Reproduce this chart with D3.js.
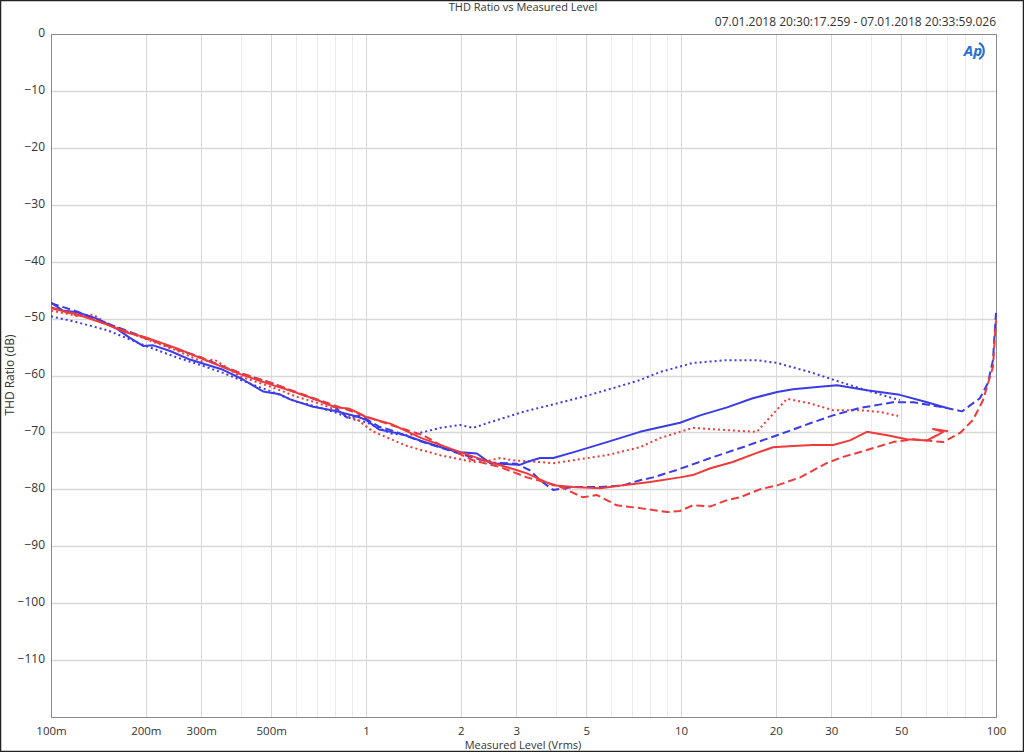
<!DOCTYPE html>
<html><head><meta charset="utf-8">
<script src="https://cdn.jsdelivr.net/npm/d3@7"></script>
<style>body{margin:0;background:#fff}svg{display:block}text{font-family:"Open Sans","Noto Sans",sans-serif;fill:#333}</style>
</head><body><svg id="c" width="1024" height="752"></svg>
<script>
const title = "THD Ratio vs Measured Level";
const timestamp = "07.01.2018 20:30:17.259 - 07.01.2018 20:33:59.026";
const xLabel = "Measured Level (Vrms)";
const yLabel = "THD Ratio (dB)";
const xTickValues = [0.1,0.2,0.3,0.5,1,2,3,5,10,20,30,50,100];
const xTickLabels = ["100m","200m","300m","500m","1","2","3","5","10","20","30","50","100"];
const yTickValues = [0,-10,-20,-30,-40,-50,-60,-70,-80,-90,-100,-110];

const blueSolid = [[0.1,-47.2],[0.109,-48.6],[0.121,-48.9],[0.14,-50],[0.162,-51.8],[0.178,-53.4],[0.196,-54.8],[0.211,-54.7],[0.239,-55.7],[0.276,-57.2],[0.32,-58.3],[0.352,-59],[0.407,-60.7],[0.471,-62.8],[0.533,-63.3],[0.574,-64.2],[0.679,-65.5],[0.809,-66.3],[0.936,-67.2],[1.0,-67.8],[1.1,-69.5],[1.3,-70.3],[1.5,-71.5],[1.8,-72.9],[2.0,-73.5],[2.25,-73.7],[2.48,-75.4],[3.08,-75.7],[3.24,-75.2],[3.57,-74.5],[3.93,-74.5],[4.54,-73.5],[5.82,-71.7],[7.41,-69.9],[8.57,-69.1],[9.93,-68.3],[11.5,-67.0],[14.0,-65.6],[16.9,-64.0],[20.2,-62.9],[22.7,-62.4],[27.0,-62.0],[31.3,-61.7],[38.9,-62.6],[49.5,-63.4],[60.4,-64.7],[69.8,-65.7]];
const blueDashed = [[0.1,-47.3],[0.12,-48.7],[0.15,-50.8],[0.2,-53.4],[0.25,-55.3],[0.3,-56.9],[0.4,-59.6],[0.5,-61.3],[0.6,-63],[0.7,-64.3],[0.8,-65.6],[0.87,-67.4],[0.95,-67.1],[1.0,-67.6],[1.1,-69],[1.2,-69.6],[1.5,-71.6],[2.0,-73.8],[2.5,-75.3],[3.0,-75.5],[3.3,-76.6],[3.57,-78.4],[3.93,-80.1],[4.54,-79.6],[5.54,-79.6],[6.55,-79.3],[7.41,-78.4],[8.15,-77.9],[9.7,-76.6],[12.4,-74.5],[15.7,-72.6],[20.2,-70.5],[25.7,-68.4],[30.4,-67.0],[37,-65.7],[47.1,-64.7],[54.6,-64.7],[69.8,-65.7],[78,-66.3],[88.9,-64],[94.3,-61.3],[97.8,-57.3],[100,-49]];
const blueDotted = [[0.1,-49.6],[0.12,-50.6],[0.15,-52],[0.2,-54.8],[0.25,-56.8],[0.3,-58.2],[0.35,-59.5],[0.4,-60.8],[0.5,-62.8],[0.6,-64.6],[0.7,-65.5],[0.8,-66.5],[0.9,-67.6],[1.0,-68.2],[1.2,-70.2],[1.35,-70.5],[1.48,-70.1],[1.72,-69.2],[1.99,-68.7],[2.19,-69.2],[2.48,-68.2],[3.15,-66.4],[4.04,-64.9],[5.14,-63.4],[6.55,-61.7],[7.41,-60.8],[8.57,-59.4],[10.9,-57.8],[14,-57.3],[17.4,-57.3],[20.2,-57.8],[25.7,-59.4],[32.7,-61.3],[38.9,-62.6],[47.1,-64.0],[49.5,-64.3]];
const redSolid = [[0.1,-48.2],[0.12,-49.2],[0.15,-51],[0.17,-52.3],[0.2,-53.3],[0.25,-55.2],[0.3,-57],[0.4,-59.8],[0.5,-61.6],[0.6,-63],[0.7,-64.3],[0.8,-65.6],[0.88,-65.8],[0.95,-66.6],[1.0,-67.3],[1.2,-68.5],[1.5,-71],[2.0,-73.5],[2.5,-75.3],[3.0,-76.6],[3.24,-77.2],[3.93,-79.3],[4.54,-79.6],[5.54,-79.8],[6.55,-79.3],[7.97,-78.7],[9.93,-77.9],[10.9,-77.5],[12.4,-76.3],[14.6,-75.2],[17.4,-73.6],[19.6,-72.6],[22.7,-72.4],[26.2,-72.2],[30.4,-72.2],[34.4,-71.4],[38.9,-69.9],[45.1,-70.5],[52.1,-71.2],[60.4,-71.4],[65,-70.5],[67.9,-69.9],[63.1,-69.4],[70.5,-69.8]];
const redDashed = [[0.1,-48],[0.12,-49.4],[0.13,-49.6],[0.15,-51],[0.2,-53.5],[0.25,-55.4],[0.3,-56.8],[0.32,-57.6],[0.4,-59.6],[0.5,-61.3],[0.6,-62.9],[0.7,-64.2],[0.8,-65.3],[0.9,-66.3],[1.0,-67.2],[1.2,-68.7],[1.52,-70.5],[1.72,-72.2],[2.19,-74.9],[2.67,-76.1],[3.24,-77.9],[4.04,-79.3],[4.88,-81.4],[5.41,-81.0],[6.25,-82.8],[7.41,-83.3],[9.04,-84.0],[9.93,-83.8],[10.9,-82.8],[12.4,-83.0],[14.0,-81.9],[15.4,-81.4],[17.8,-80.0],[20.2,-79.3],[23.9,-77.9],[29,-75.4],[32.7,-74.3],[38.9,-73.1],[47.1,-71.7],[54.6,-71.2],[67.9,-71.7],[76.9,-70.1],[84.5,-67.8],[91,-64.3],[97.8,-58.5],[100,-50.3]];
const redDotted = [[0.1,-48.6],[0.12,-49.5],[0.136,-49.3],[0.15,-50.8],[0.2,-53.6],[0.25,-55.6],[0.3,-57.5],[0.33,-57.2],[0.4,-60.2],[0.5,-62],[0.6,-63.7],[0.7,-64.8],[0.8,-66],[0.94,-67.8],[1.05,-69.8],[1.2,-71.2],[1.35,-72.4],[1.72,-74],[2.19,-75.2],[2.48,-74.9],[2.67,-74.5],[2.93,-74.9],[3.57,-75.2],[3.93,-75.4],[4.54,-74.9],[5.82,-74],[7.41,-72.6],[8.57,-71],[10.9,-69.2],[14,-69.6],[17.4,-69.9],[19.2,-67.3],[21.7,-64.1],[25.7,-64.9],[30.4,-66.1],[37,-66.1],[42.8,-66.4],[48.9,-67.1]];

const BLUE = "#3b3be8", RED = "#f03a3a";
const series = [
  {d: blueDotted, c: BLUE, dash: "2,3"},
  {d: redDotted, c: RED, dash: "2,3"},
  {d: blueDashed, c: BLUE, dash: "8,4"},
  {d: redDashed, c: RED, dash: "8,4"},
  {d: blueSolid, c: BLUE, dash: null},
  {d: redSolid, c: RED, dash: null}
];

const svg = d3.select("#c");
const L = 51, R = 996, T = 34, B = 717;
const x = d3.scaleLog().domain([0.1, 100]).range([L, R]);
const y = d3.scaleLinear().domain([-120, 0]).range([B, T]);

// outer frame
svg.append("rect").attr("x",0.5).attr("y",0.5).attr("width",1023).attr("height",751)
  .attr("fill","none").attr("stroke","#222").attr("stroke-width",1.5);

// grid
const minor = [];
for (let dec of [0.1,1,10]) for (let k=2;k<=9;k++) minor.push(dec*k);
svg.append("g").selectAll("line").data(minor).join("line")
  .attr("x1",d=>Math.round(x(d))+0.5).attr("x2",d=>Math.round(x(d))+0.5).attr("y1",T).attr("y2",B)
  .attr("stroke",d=>xTickValues.includes(+d.toPrecision(3))?"#d8d8d8":"#ececec").attr("stroke-width",1);
svg.append("g").selectAll("line").data([1,10]).join("line")
  .attr("x1",d=>Math.round(x(d))+0.5).attr("x2",d=>Math.round(x(d))+0.5).attr("y1",T).attr("y2",B)
  .attr("stroke","#d8d8d8");
svg.append("g").selectAll("line").data(yTickValues.slice(1)).join("line")
  .attr("x1",L).attr("x2",R).attr("y1",d=>Math.round(y(d))+0.5).attr("y2",d=>Math.round(y(d))+0.5)
  .attr("stroke","#d8d8d8").attr("stroke-width",1.5);

// frame of plot
svg.append("rect").attr("x",L+0.5).attr("y",T+0.5).attr("width",R-L).attr("height",B-T)
  .attr("fill","none").attr("stroke","#8a8a8a").attr("stroke-width",1);

// axes (labels only)
const xAxis = d3.axisBottom(x).tickValues(xTickValues).tickFormat((d,i)=>xTickLabels[i]).tickSize(0).tickPadding(0);
const gx = svg.append("g").attr("transform",`translate(0,${B})`).call(xAxis);
gx.select(".domain").remove();
gx.selectAll("text").attr("y",18).attr("dy",0).attr("font-size",11.5).attr("fill","#333");
const yAxis = d3.axisLeft(y).tickValues(yTickValues).tickFormat(d3.format("d")).tickSize(0).tickPadding(0);
const gy = svg.append("g").attr("transform",`translate(${L-6},0)`).call(yAxis);
gy.select(".domain").remove();
gy.selectAll("text").attr("font-size",12).attr("fill","#333").attr("dy","0.2em");

// curves
const line = d3.line().x(d=>x(d[0])).y(d=>y(d[1])).curve(d3.curveLinear);
svg.append("clipPath").attr("id","pc").append("rect").attr("x",L).attr("y",T).attr("width",R-L+1).attr("height",B-T);
const gl = svg.append("g").attr("clip-path","url(#pc)");
series.forEach(s=>{
  gl.append("path").attr("d",line(s.d)).attr("fill","none").attr("stroke",s.c)
    .attr("stroke-width",2).attr("stroke-linejoin","round")
    .attr("stroke-dasharray",s.dash);
});

// texts
svg.append("text").attr("x",523).attr("y",11).attr("text-anchor","middle").attr("font-size",11).text(title);
svg.append("text").attr("x",996).attr("y",26).attr("text-anchor","end").attr("font-size",12).text(timestamp);
svg.append("text").attr("x",523).attr("y",748.5).attr("text-anchor","middle").attr("font-size",11).text(xLabel);
svg.append("text").attr("transform","translate(14,375) rotate(-90)").attr("text-anchor","middle").attr("font-size",12).text(yLabel);

// AP logo
const lg = svg.append("g").attr("transform","translate(973,51)");
lg.append("text").attr("x",0).attr("y",5).attr("text-anchor","middle").attr("font-size",15).attr("font-weight","bold")
  .attr("font-style","italic").style("fill","#2a6fd6").text("Ap");
lg.append("path").attr("d","M6,-8 A9,9 0 0 1 6,8").attr("fill","none").attr("stroke","#2a6fd6").attr("stroke-width",2);
</script></body></html>
